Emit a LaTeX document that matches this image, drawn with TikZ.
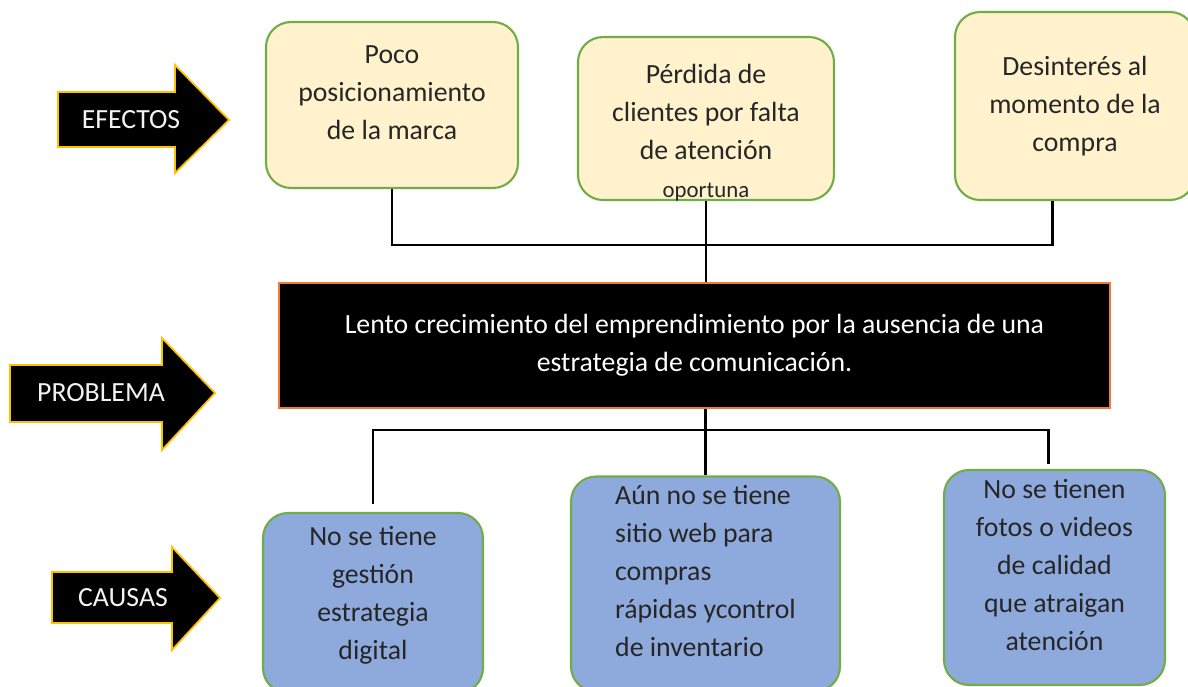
\documentclass[tikz,border=0pt]{standalone}
\usepackage{fontspec}
\setmainfont{Carlito}
\definecolor{cream}{HTML}{FFF2CC}
\definecolor{causeblue}{HTML}{8EA9DB}
\definecolor{boxgreen}{HTML}{70AD47}
\definecolor{tagyellow}{HTML}{FFC000}
\definecolor{probedge}{HTML}{ED7D31}
\definecolor{txtgray}{HTML}{262626}

\begin{document}
\begin{tikzpicture}[
        x=0.02cm, y=-0.02cm,
        every node/.style={font=\fontsize{15.8}{21.6}\selectfont, text=txtgray},
        effect/.style={draw=boxgreen, line width=1.2pt, fill=cream, rounded corners=0.5cm, align=center},
        cause/.style={effect, fill=causeblue},
        problem/.style={draw=probedge, line width=1.2pt, fill=black, text=white, align=center},
        tagshape/.style={draw=tagyellow, line width=1pt, fill=black, line join=miter},
        tagtext/.style={text=white!95!black},
        link/.style={line width=1.7pt, draw=black}
    ]
    \useasboundingbox (0,0) rectangle (1188,687);

    % Labels on the left
    \draw[tagshape] (58,92) -- (175,92) -- (175,65) -- (229,120) -- (175,173) -- (175,147) -- (58,147) -- cycle;
    \node[tagtext] (efectos) at (131,120) {EFECTOS};
    \draw[tagshape] (10,365) -- (162,365) -- (162,338) -- (215,393) -- (162,450) -- (162,422) -- (10,422) -- cycle;
    \node[tagtext] (problema) at (101,393) {PROBLEMA};
    \draw[tagshape] (52,572) -- (172,572) -- (172,547) -- (220,598) -- (172,650) -- (172,623) -- (52,623) -- cycle;
    \node[tagtext] (causas) at (123,598) {CAUSAS};

    % Effects
    \node[effect, minimum width=5.04cm, minimum height=3.32cm] (eff1) at (392,105)
    {Poco\\posicionamiento\\de la marca\\[-0.28cm]};
    \node[effect, minimum width=5.12cm, minimum height=3.26cm] (eff2) at (706,118.5)
    {Pérdida de\\clientes por falta\\de atención\\{\fontsize{13}{16}\selectfont oportuna}\\[-1.24cm]};
    \node[effect, minimum width=4.8cm, minimum height=3.76cm] (eff3) at (1075,106)
    {Desinterés al\\momento de la\\compra};

    % Problem
    \node[problem, minimum width=16.62cm, minimum height=2.5cm] (prob) at (694.5,345.5)
    {Lento crecimiento del emprendimiento por la ausencia de una\\estrategia de comunicación.};

    % Causes
    \node[cause, minimum width=4.4cm, minimum height=3.6cm] (c1) at (373,603)
    {No se tiene\\gestión\\estrategia\\digital\\[-0.36cm]};
    \node[cause, minimum width=5.38cm, minimum height=4.3cm, align=left] (c2) at (705.5,584)
    {Aún no se tiene\\sitio web para\\compras\\rápidas ycontrol\\de inventario\\[-0.24cm]};
    \node[cause, minimum width=4.42cm, minimum height=4.3cm] (c3) at (1054.5,577.5)
    {No se tienen\\fotos o videos\\de calidad\\que atraigan\\atención\\[-0.24cm]};

    % Upper connectors
    \coordinate (topbar) at (706,245);
    \draw[link] (eff1.south) |- (topbar);
    \draw[link] ([xshift=-0.46cm]eff3.south) |- (topbar);
    \draw[link] (eff2.south) -- (eff2.south |- prob.north);

    % Lower connectors
    \coordinate (botbar) at (706,430);
    \draw[link] (c2.north |- prob.south) -- (c2.north);
    \draw[link, shorten <=0.16cm] (c1.north) |- (botbar);
    \draw[link, shorten <=0.1cm] ([xshift=-0.13cm]c3.north) |- (botbar);

\end{tikzpicture}
\end{document}
